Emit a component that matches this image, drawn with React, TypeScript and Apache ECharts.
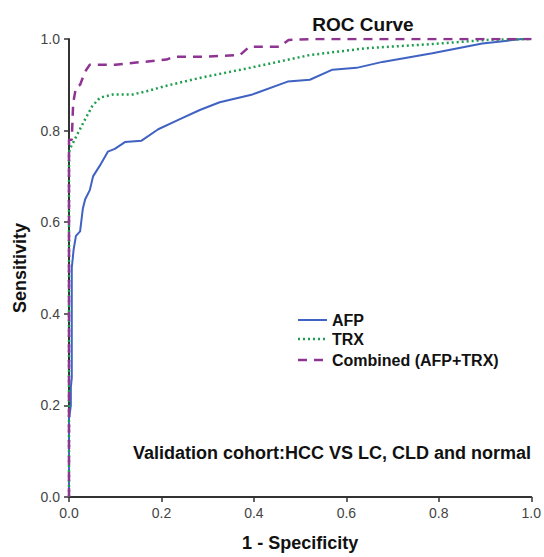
import React, { useEffect, useRef } from "react";
import * as echarts from "echarts";

const afpX = [0, 0, 0.004, 0.004, 0.006, 0.006, 0.01, 0.015, 0.024, 0.03, 0.035, 0.045, 0.052, 0.067, 0.084, 0.099, 0.121, 0.157, 0.193, 0.24, 0.283, 0.326, 0.397, 0.473, 0.521, 0.57, 0.622, 0.678, 0.786, 0.894, 0.98, 1];
const afpY = [0, 0.17, 0.2, 0.24, 0.26, 0.5, 0.54, 0.57, 0.58, 0.63, 0.65, 0.67, 0.7, 0.724, 0.754, 0.76, 0.775, 0.778, 0.803, 0.825, 0.845, 0.862, 0.879, 0.907, 0.911, 0.933, 0.937, 0.95, 0.969, 0.99, 1, 1];

const trxX = [0, 0, 0.002, 0.017, 0.035, 0.05, 0.067, 0.095, 0.138, 0.168, 0.211, 0.283, 0.391, 0.521, 0.644, 0.786, 0.903, 1];
const trxY = [0, 0.75, 0.76, 0.79, 0.825, 0.853, 0.872, 0.879, 0.879, 0.886, 0.898, 0.915, 0.937, 0.965, 0.98, 0.989, 0.998, 1];

const combX = [0, 0, 0.006, 0.009, 0.015, 0.024, 0.035, 0.045, 0.1, 0.211, 0.225, 0.283, 0.37, 0.39, 0.456, 0.475, 0.53, 1];
const combY = [0, 0.78, 0.78, 0.86, 0.894, 0.9, 0.929, 0.944, 0.944, 0.955, 0.961, 0.961, 0.965, 0.983, 0.983, 0.998, 1, 1];

const seriesNames = ["AFP", "TRX", "Combined (AFP+TRX)"];
const seriesColors = ["#4062C2", "#1E9E4E", "#8E3493"];
const seriesWidths = [2, 2.5, 2.5];
const seriesDash: any[] = ["solid", [2, 3], [9, 7]];

const zip = (xs: number[], ys: number[]) => xs.map((x, i) => [x, ys[i]]);

const FONT = "'Liberation Sans', Arial, sans-serif";

export default function App() {
  const ref = useRef<HTMLDivElement>(null);
  useEffect(() => {
    if (!ref.current) return;
    const chart = echarts.init(ref.current, undefined, { renderer: "svg" });
    const axisCommon = {
      type: "value" as const,
      min: 0,
      max: 1,
      interval: 0.2,
      axisLine: { show: true, lineStyle: { color: "#333", width: 2 } },
      axisTick: { show: true, inside: false, length: 5, lineStyle: { color: "#333", width: 1.5 } },
      splitLine: { show: false },
      axisLabel: {
        color: "#444",
        fontSize: 14,
        fontFamily: FONT,
        margin: 9,
        formatter: (v: number) => v.toFixed(1),
      },
      nameLocation: "middle" as const,
      nameTextStyle: { color: "#111", fontSize: 18, fontWeight: "bold" as const, fontFamily: FONT },
    };
    const legendRowsY = [320, 339, 360];
    const legendGraphics: any[] = [];
    seriesNames.forEach((n, i) => {
      legendGraphics.push({
        type: "line",
        shape: { x1: 298, y1: legendRowsY[i], x2: 327, y2: legendRowsY[i] },
        style: {
          stroke: seriesColors[i],
          lineWidth: seriesWidths[i],
          lineDash: seriesDash[i] === "solid" ? null : seriesDash[i],
        },
      });
      legendGraphics.push({
        type: "text",
        x: 332,
        y: legendRowsY[i],
        style: {
          text: n,
          fill: "#111",
          font: `bold 16px ${FONT}`,
          textVerticalAlign: "middle",
          verticalAlign: "middle",
        },
      });
    });
    chart.setOption({
      animation: false,
      backgroundColor: "#fff",
      title: {
        text: "ROC Curve",
        left: 358,
        top: 10,
        textAlign: "center",
        textStyle: { color: "#111", fontSize: 19, fontWeight: "bold", fontFamily: FONT },
      },
      grid: { left: 69, right: 12, top: 39, bottom: 55 },
      xAxis: { ...axisCommon, name: "1 - Specificity", nameGap: 37 },
      yAxis: { ...axisCommon, name: "Sensitivity", nameGap: 40 },
      graphic: [
        ...legendGraphics,
        {
          type: "text",
          x: 133,
          y: 453,
          style: {
            text: "Validation cohort:HCC VS LC, CLD and normal",
            fill: "#111",
            font: `bold 18px ${FONT}`,
            textVerticalAlign: "middle",
            verticalAlign: "middle",
          },
        },
      ],
      series: seriesNames.map((n, i) => ({
        name: n,
        type: "line",
        data: i === 0 ? zip(afpX, afpY) : i === 1 ? zip(trxX, trxY) : zip(combX, combY),
        showSymbol: false,
        symbol: "none",
        lineStyle: { color: seriesColors[i], width: seriesWidths[i], type: seriesDash[i] },
        itemStyle: { color: seriesColors[i] },
        z: 3 + i,
      })),
    });
    return () => chart.dispose();
  }, []);
  return (
    <div
      ref={ref}
      style={{ position: "fixed", left: 0, top: 0, width: 544, height: 557 }}
    />
  );
}
